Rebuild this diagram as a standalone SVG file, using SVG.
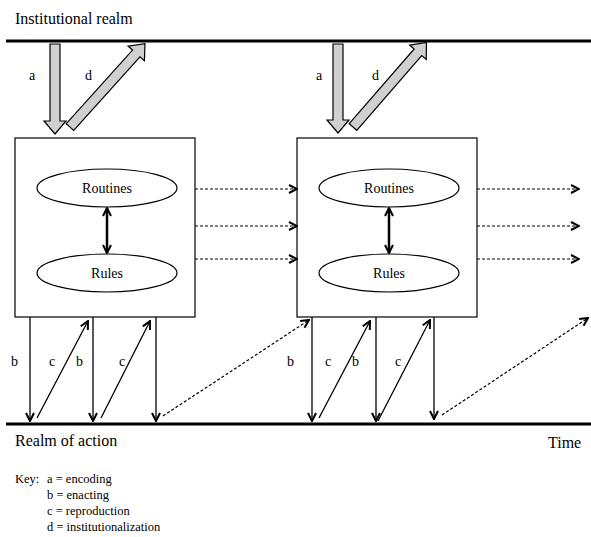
<svg xmlns="http://www.w3.org/2000/svg" width="591" height="537" viewBox="0 0 591 537" font-family="'Liberation Serif', 'Times New Roman', serif">
<style>
text{font-family:"Liberation Serif","Times New Roman","DejaVu Serif",serif;fill:#000}
.lbl{font-size:14px}
.big{font-size:16px}
.node{font-size:14px;text-anchor:middle}
.key{font-size:12.5px}
.box{fill:#fff;stroke:#000;stroke-width:1.2}
.ell{fill:#fff;stroke:#000;stroke-width:1.2}
.blk{fill:#d0d0d0;stroke:#000;stroke-width:1.2}
.thin{stroke:#000;stroke-width:1.3;fill:none}
.dash{stroke:#000;stroke-width:1.2;fill:none;stroke-dasharray:3,2}
.realm{stroke:#000;stroke-width:3}
</style>
<defs>
<marker id="open" viewBox="0 0 10 10" refX="9" refY="5" markerWidth="10" markerHeight="10" markerUnits="userSpaceOnUse" orient="auto-start-reverse">
<path d="M1,1 L9,5 L1,9" fill="none" stroke="#000" stroke-width="2"/>
</marker>
</defs>

<g id="realms">
<line class="realm" x1="6" y1="41" x2="591" y2="41"/>
<line class="realm" x1="6" y1="424" x2="591" y2="424"/>
<text class="big" x="15" y="24">Institutional realm</text>
<text class="big" x="15" y="446">Realm of action</text>
<text class="big" x="548" y="448">Time</text>
</g>

<g id="box1">
<rect class="box" x="15" y="138" width="180" height="179"/>
<ellipse class="ell" cx="107" cy="188" rx="70" ry="19"/>
<text class="node" x="107" y="193">Routines</text>
<ellipse class="ell" cx="107" cy="273" rx="70" ry="19"/>
<text class="node" x="107" y="278">Rules</text>
</g>

<g id="box2">
<rect class="box" x="297" y="138" width="180" height="179"/>
<ellipse class="ell" cx="389" cy="188" rx="70" ry="19"/>
<text class="node" x="389" y="193">Routines</text>
<ellipse class="ell" cx="389" cy="273" rx="70" ry="19"/>
<text class="node" x="389" y="278">Rules</text>
</g>

<g id="connectors">
<polygon class="blk" transform="translate(55,44) rotate(90)" points="0,-5 77,-5 77,-11 90,0 77,11 77,5 0,5"/>
<polygon class="blk" transform="translate(70,127) rotate(-48)" points="0,-5 99,-5 99,-11 112,0 99,11 99,5 0,5"/>
<polygon class="blk" transform="translate(338,44) rotate(90)" points="0,-5 76,-5 76,-11 89,0 76,11 76,5 0,5"/>
<polygon class="blk" transform="translate(353,127) rotate(-49)" points="0,-5 99,-5 99,-11 112,0 99,11 99,5 0,5"/>

<line x1="107" y1="208" x2="107" y2="253" stroke="#000" stroke-width="2.5" marker-start="url(#open)" marker-end="url(#open)"/>
<line x1="389" y1="208" x2="389" y2="253" stroke="#000" stroke-width="2.5" marker-start="url(#open)" marker-end="url(#open)"/>

<line class="dash" x1="195" y1="189" x2="297" y2="189" marker-end="url(#open)"/>
<line class="dash" x1="195" y1="226" x2="297" y2="226" marker-end="url(#open)"/>
<line class="dash" x1="195" y1="259" x2="297" y2="259" marker-end="url(#open)"/>
<line class="dash" x1="477" y1="189" x2="579" y2="189" marker-end="url(#open)"/>
<line class="dash" x1="477" y1="226" x2="579" y2="226" marker-end="url(#open)"/>
<line class="dash" x1="477" y1="259" x2="579" y2="259" marker-end="url(#open)"/>

<line class="thin" x1="30" y1="317" x2="30" y2="421" marker-end="url(#open)"/>
<line class="thin" x1="37" y1="418" x2="88" y2="321" marker-end="url(#open)"/>
<line class="thin" x1="93" y1="317" x2="93" y2="421" marker-end="url(#open)"/>
<line class="thin" x1="101" y1="418" x2="150" y2="321" marker-end="url(#open)"/>
<line class="thin" x1="156" y1="317" x2="156" y2="421" marker-end="url(#open)"/>
<line class="dash" x1="163" y1="416" x2="309" y2="320" marker-end="url(#open)"/>

<line class="thin" x1="312" y1="317" x2="312" y2="421" marker-end="url(#open)"/>
<line class="thin" x1="319" y1="418" x2="370" y2="321" marker-end="url(#open)"/>
<line class="thin" x1="376" y1="317" x2="376" y2="421" marker-end="url(#open)"/>
<line class="thin" x1="378" y1="421" x2="430" y2="320" marker-end="url(#open)"/>
<line class="thin" x1="434" y1="317" x2="434" y2="419" marker-end="url(#open)"/>
<line class="dash" x1="442" y1="415" x2="588" y2="318" marker-end="url(#open)"/>

<text class="lbl" x="29" y="80">a</text>
<text class="lbl" x="85" y="80">d</text>
<text class="lbl" x="316" y="80">a</text>
<text class="lbl" x="372" y="80">d</text>
<text class="lbl" x="11" y="366">b</text>
<text class="lbl" x="49" y="366">c</text>
<text class="lbl" x="76" y="366">b</text>
<text class="lbl" x="119" y="366">c</text>
<text class="lbl" x="287" y="366">b</text>
<text class="lbl" x="325" y="366">c</text>
<text class="lbl" x="352" y="366">b</text>
<text class="lbl" x="395" y="366">c</text>
</g>

<g id="key">
<text class="key" x="15" y="483">Key:</text>
<text class="key" x="47" y="483">a = encoding</text>
<text class="key" x="47" y="499">b = enacting</text>
<text class="key" x="47" y="515">c = reproduction</text>
<text class="key" x="47" y="531">d = institutionalization</text>
</g>
</svg>
